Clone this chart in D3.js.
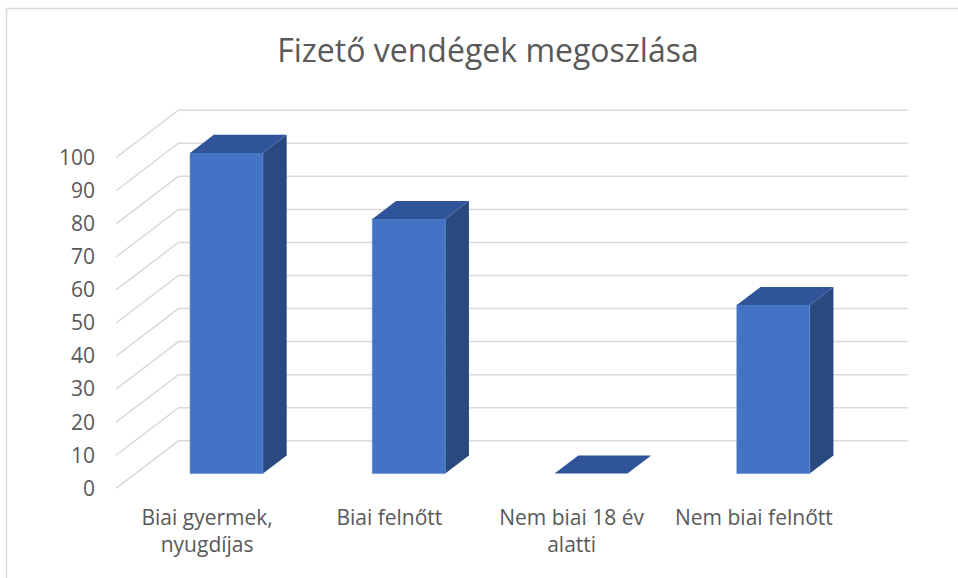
<!DOCTYPE html>
<html>
<head>
<meta charset="utf-8">
<script src="https://cdn.jsdelivr.net/npm/d3@7"></script>
<style>
  body { margin: 0; background: #fff; }
  text { font-family: "Open Sans", sans-serif; fill: #595959; }
</style>
</head>
<body>
<script>
// chart data
var title = "Fizető vendégek megoszlása";
var categories = [
  "Biai gyermek, nyugdíjas",
  "Biai felnőtt",
  "Nem biai 18 év alatti",
  "Nem biai felnőtt",
];
var values = [97, 77, 0, 51];
var yTicks = [0, 10, 20, 30, 40, 50, 60, 70, 80, 90, 100];

function setupChart() {
  var svgWidth = 958;
  var svgHeight = 578;

  var svg = d3
    .select("body")
    .append("svg")
    .attr("width", svgWidth)
    .attr("height", svgHeight);

  // chart border (runs off the picture on the right / bottom)
  svg
    .append("rect")
    .attr("x", 6.5)
    .attr("y", 8.5)
    .attr("width", svgWidth + 20)
    .attr("height", svgHeight + 20)
    .attr("fill", "none")
    .attr("stroke", "#d9d9d9")
    .attr("stroke-width", 1.5);

  return { svg, svgWidth, svgHeight };
}

// wraps category labels into lines that fit the band
function wrap(textSel, width) {
  textSel.each(function () {
    var text = d3.select(this);
    var words = text.text().split(/\s+/);
    var x = text.attr("x");
    var lineHeight = 27;
    text.text(null);
    var line = [];
    var tspan = text.append("tspan").attr("x", x).attr("dy", 0);
    words.forEach((word) => {
      line.push(word);
      tspan.text(line.join(" "));
      if (tspan.node().getComputedTextLength() > width && line.length > 1) {
        line.pop();
        tspan.text(line.join(" "));
        line = [word];
        tspan = text
          .append("tspan")
          .attr("x", x)
          .attr("dy", lineHeight)
          .text(word);
      }
    });
  });
}

function main() {
  var { svg } = setupChart();

  // oblique depth of the plot (back wall offset)
  var depthX = 62.5;
  var depthY = -47.5;
  var barZ0 = 0.31;
  var barZ1 = 0.69;

  var xScale = d3
    .scaleBand()
    .domain(categories)
    .range([116, 845])
    .paddingInner(0.6)
    .paddingOuter(0.3);

  var yScale = d3.scaleLinear().domain([0, 100]).range([488.3, 157.7]);

  // project a point (x, value, depth) onto the picture
  var px = (x, z) => x + depthX * z;
  var py = (v, z) => yScale(v) + depthY * z;

  // title
  svg
    .append("text")
    .text(title)
    .attr("x", 488)
    .attr("y", 62)
    .attr("text-anchor", "middle")
    .style("font-size", "32px");

  // gridlines: diagonal on the side wall, then along the back wall
  var grid = svg.append("g").classed("grid", true);
  grid
    .selectAll("path")
    .data(yTicks)
    .enter()
    .append("path")
    .attr("d", (d) => {
      var x0 = xScale.range()[0];
      var x1 = xScale.range()[1];
      return `M${px(x0, 0)},${py(d, 0)}L${px(x0, 1)},${py(d, 1)}L${px(x1, 1)},${py(d, 1)}`;
    })
    .attr("fill", "none")
    .attr("stroke", "#d9d9d9")
    .attr("stroke-width", 1.5);

  // y axis labels
  svg
    .append("g")
    .selectAll("text")
    .data(yTicks)
    .enter()
    .append("text")
    .text((d) => d)
    .attr("x", 95)
    .attr("y", (d) => py(d, 0))
    .attr("dy", "0.35em")
    .attr("text-anchor", "end")
    .style("font-size", "21px");

  // bars
  var bars = svg
    .selectAll(".bar")
    .data(categories.map((c, i) => ({ cat: c, value: values[i] })))
    .enter()
    .append("g")
    .classed("bar", true);

  bars.each(function (d) {
    var g = d3.select(this);
    var xl = xScale(d.cat);
    var xr = xl + xScale.bandwidth();
    var v = d.value;
    if (v > 0) {
      // side face
      g.append("path")
        .attr(
          "d",
          `M${px(xr, barZ0)},${py(0, barZ0)}L${px(xr, barZ1)},${py(0, barZ1)}L${px(xr, barZ1)},${py(v, barZ1)}L${px(xr, barZ0)},${py(v, barZ0)}Z`
        )
        .attr("fill", "#2a4a7f");
      // front face
      g.append("path")
        .attr(
          "d",
          `M${px(xl, barZ0)},${py(0, barZ0)}L${px(xr, barZ0)},${py(0, barZ0)}L${px(xr, barZ0)},${py(v, barZ0)}L${px(xl, barZ0)},${py(v, barZ0)}Z`
        )
        .attr("fill", "#4472c4")
        .attr("stroke", "#5a86d4")
        .attr("stroke-width", 0.6);
    }
    // top face
    g.append("path")
      .attr(
        "d",
        `M${px(xl, barZ0)},${py(v, barZ0)}L${px(xr, barZ0)},${py(v, barZ0)}L${px(xr, barZ1)},${py(v, barZ1)}L${px(xl, barZ1)},${py(v, barZ1)}Z`
      )
      .attr("fill", "#30549a");
  });

  // category labels along the front edge
  svg
    .append("g")
    .selectAll("text")
    .data(categories)
    .enter()
    .append("text")
    .text((d) => d)
    .attr("x", (d) => xScale(d) + xScale.bandwidth() / 2)
    .attr("y", 525)
    .attr("text-anchor", "middle")
    .style("font-size", "21px")
    .call(wrap, xScale.step() - 8);
}

main();
</script>
</body>
</html>
